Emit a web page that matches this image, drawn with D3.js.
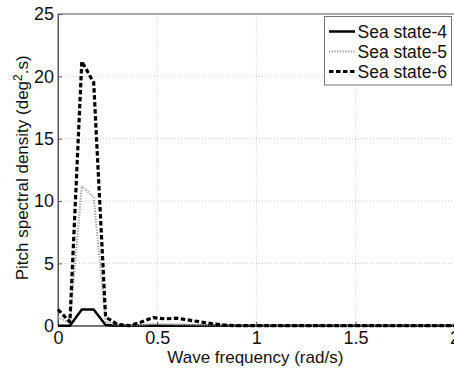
<!DOCTYPE html>
<html>
<head>
<meta charset="utf-8">
<script src="https://cdn.jsdelivr.net/npm/d3@7"></script>
<style>
  body { margin: 0; background: #fff; }
  svg { display: block; font-family: Arial, "Liberation Sans", sans-serif; }
</style>
</head>
<body>
<div id="chart"></div>
<script>
// Wave frequency (rad/s)
const freq = [0, 0.06, 0.12, 0.18, 0.24, 0.30, 0.36, 0.42, 0.48, 0.54, 0.60, 0.66, 0.72, 0.78, 0.84, 0.90, 0.96, 1.5, 2.0];
// Pitch spectral density (deg^2.s)
const seaState4 = [0, 0, 1.3, 1.3, 0.05, 0, 0, 0, 0, 0, 0, 0, 0, 0, 0, 0, 0, 0, 0];
const seaState5 = [0.7, 0.2, 11.2, 10.3, 0.3, 0.05, 0, 0.05, 0.15, 0.12, 0.1, 0.08, 0.05, 0.02, 0, 0, 0, 0, 0];
const seaState6 = [1.3, 0.3, 21.2, 19.5, 0.7, 0.1, 0, 0.3, 0.65, 0.55, 0.6, 0.45, 0.3, 0.15, 0.05, 0, 0, 0, 0];
const xTicks = [0, 0.5, 1, 1.5, 2];
const yTicks = [0, 5, 10, 15, 20, 25];
const legendLabels = ["Sea state-4", "Sea state-5", "Sea state-6"];

const W = 454, H = 369;
const margin = { left: 58, top: 14, bottom: 43 };
const plotRight = 454.6; // x = 2 sits right at the window edge

const svg = d3.select("#chart").append("svg")
  .attr("width", W).attr("height", H);

const x = d3.scaleLinear().domain([0, 2]).range([margin.left, plotRight]);
const y = d3.scaleLinear().domain([0, 25]).range([H - margin.bottom - 0.3, margin.top]);

// grid
const grid = svg.append("g");
grid.selectAll(".gx").data(xTicks.slice(1, -1)).enter().append("line")
  .attr("x1", d => x(d)).attr("x2", d => x(d))
  .attr("y1", y(0)).attr("y2", y(25))
  .attr("stroke", "#c8c8c8").attr("stroke-width", 1).attr("stroke-dasharray", "1,2");
grid.selectAll(".gy").data(yTicks.slice(1, -1)).enter().append("line")
  .attr("x1", x(0)).attr("x2", x(2))
  .attr("y1", d => y(d)).attr("y2", d => y(d))
  .attr("stroke", "#c8c8c8").attr("stroke-width", 1).attr("stroke-dasharray", "1,2");

// axes box
svg.append("rect")
  .attr("x", x(0)).attr("y", y(25))
  .attr("width", x(2) - x(0)).attr("height", y(0) - y(25))
  .attr("fill", "none").attr("stroke", "#555").attr("stroke-width", 1);

const xAxis = svg.append("g")
  .attr("transform", `translate(0,${y(0)})`)
  .call(d3.axisBottom(x).tickValues(xTicks).tickFormat(d3.format("")).tickSizeInner(-4).tickSizeOuter(0));
const yAxis = svg.append("g")
  .attr("transform", `translate(${x(0)},0)`)
  .call(d3.axisLeft(y).tickValues(yTicks).tickSizeInner(-4).tickSizeOuter(0));

[xAxis, yAxis].forEach(g => {
  g.select(".domain").attr("stroke", "#555");
  g.selectAll(".tick line").attr("stroke", "#555");
  g.selectAll("text").attr("font-size", 18).attr("fill", "#111")
    .attr("font-family", "Arial, 'Liberation Sans', sans-serif");
});
xAxis.selectAll("text").attr("dy", "0.71em").attr("y", 6);
yAxis.selectAll("text").attr("x", -4);

// axis labels
svg.append("text")
  .attr("x", (x(0) + x(2)) / 2 - 1).attr("y", 363)
  .attr("text-anchor", "middle").attr("font-size", 17).attr("fill", "#111")
  .text("Wave frequency (rad/s)");

const yl = svg.append("text")
  .attr("transform", `translate(28,${(y(0) + y(25)) / 2 - 2}) rotate(-90)`)
  .attr("text-anchor", "middle").attr("font-size", 17).attr("fill", "#111");
yl.append("tspan").text("Pitch spectral density (deg");
yl.append("tspan").attr("dy", -6).attr("font-size", 12).text("2");
yl.append("tspan").attr("dy", 6).text(".s)");

// series
const series = [
  { values: seaState4, stroke: "#000", width: 2.5, dash: null },
  { values: seaState5, stroke: "#999", width: 2, dash: "1.2,1.5" },
  { values: seaState6, stroke: "#000", width: 3.2, dash: "4.5,2.5" }
];

const line = d3.line().x(d => x(d[0])).y(d => y(d[1]));

series.forEach(s => {
  svg.append("path")
    .datum(freq.map((f, i) => [f, s.values[i]]))
    .attr("d", line)
    .attr("fill", "none")
    .attr("stroke", s.stroke)
    .attr("stroke-width", s.width)
    .attr("stroke-dasharray", s.dash)
    .attr("stroke-linejoin", "round");
});

// legend
const lg = svg.append("g");
lg.append("rect")
  .attr("x", 324.5).attr("y", 16.5).attr("width", 127).attr("height", 68.5)
  .attr("fill", "#fff").attr("stroke", "#777").attr("stroke-width", 1);
legendLabels.forEach((lab, i) => {
  const cy = 31.5 + i * 20;
  const s = series[i];
  lg.append("line")
    .attr("x1", 329).attr("x2", 355).attr("y1", cy).attr("y2", cy)
    .attr("stroke", s.stroke).attr("stroke-width", s.width)
    .attr("stroke-dasharray", s.dash);
  lg.append("text")
    .attr("x", 357.5).attr("y", cy + 6.3)
    .attr("font-size", 17.5).attr("fill", "#111")
    .text(lab);
});
</script>
</body>
</html>
